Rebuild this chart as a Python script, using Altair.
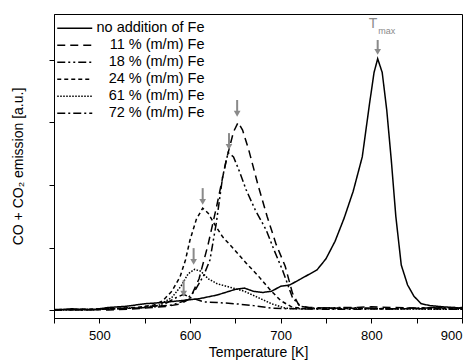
import altair as alt
import pandas as pd

series_names = ["no addition of Fe", "11 % (m/m) Fe", "18 % (m/m) Fe",
                "24 % (m/m) Fe", "61 % (m/m) Fe", "72 % (m/m) Fe"]

t_none = [450, 470, 490, 510, 530, 550, 570, 590, 610, 630, 650, 660, 670, 680, 690, 700, 710, 720, 730,
          740, 750, 760, 770, 780, 790, 798, 803, 807, 812, 817, 822, 827, 833, 840, 847, 855, 865, 880, 900]
y_none = [0.0, 0.02, 0.0, 0.04, 0.06, 0.1, 0.12, 0.15, 0.18, 0.24, 0.33, 0.35, 0.3, 0.28, 0.3, 0.38, 0.4, 0.48, 0.56,
          0.64, 0.82, 1.1, 1.47, 1.9, 2.45, 3.3, 3.8, 4.02, 3.8, 3.2, 2.4, 1.5, 0.72, 0.4, 0.22, 0.1, 0.07, 0.05, 0.03]

t_11 = [450, 480, 510, 540, 560, 575, 590, 600, 610, 620, 630, 640, 648, 653, 658, 665, 675, 685, 695, 705,
        713, 720, 730, 760, 800, 850, 900]
y_11 = [0.0, 0.01, 0.0, 0.02, 0.04, 0.06, 0.1, 0.18, 0.5, 1.05, 1.7, 2.4, 2.85, 3.0, 2.88, 2.55, 2.0, 1.5, 1.05, 0.7,
        0.27, 0.08, 0.04, 0.03, 0.05, 0.03, 0.04]

t_18 = [450, 480, 510, 540, 560, 580, 595, 605, 615, 622, 629, 636, 642, 648, 655, 662, 672, 684, 693, 702,
        713, 722, 735, 770, 820, 870, 900]
y_18 = [0.01, 0.0, 0.02, 0.03, 0.05, 0.08, 0.15, 0.3, 0.55, 0.8, 1.39, 2.13, 2.52, 2.45, 2.2, 1.92, 1.6, 1.28, 0.95,
        0.64, 0.2, 0.06, 0.03, 0.04, 0.02, 0.04, 0.03]

t_24 = [450, 480, 510, 540, 560, 570, 580, 589, 595, 600, 607, 614, 620, 628, 636, 648, 662, 675, 688, 700,
        712, 725, 760, 820, 900]
y_24 = [0.0, 0.01, 0.02, 0.04, 0.08, 0.15, 0.3, 0.53, 0.8, 1.12, 1.45, 1.63, 1.55, 1.35, 1.17, 0.98, 0.75, 0.55,
        0.33, 0.15, 0.05, 0.02, 0.03, 0.02, 0.03]

t_61 = [450, 500, 540, 565, 580, 590, 598, 605, 612, 620, 630, 645, 660, 675, 690, 705, 720, 800, 900]
y_61 = [0.0, 0.01, 0.03, 0.07, 0.2, 0.38, 0.58, 0.65, 0.62, 0.5, 0.42, 0.36, 0.3, 0.2, 0.1, 0.03, 0.02, 0.02, 0.01]

t_72 = [450, 500, 540, 570, 585, 593, 600, 615, 630, 650, 670, 690, 710, 760, 850, 900]
y_72 = [0.0, 0.01, 0.03, 0.08, 0.2, 0.25, 0.2, 0.13, 0.12, 0.1, 0.07, 0.03, 0.02, 0.01, 0.02, 0.01]

# arrows marking the maxima
arrow_t = [807, 652, 643, 614, 604, 593]
arrow_tip = [4.08, 3.09, 2.56, 1.68, 0.72, 0.21]
arrow_tail = [4.32, 3.36, 2.83, 1.95, 0.99, 0.48]

dashes = [[1, 0], [8, 5], [8, 3, 2, 3, 2, 3], [4, 3], [1.5, 1.5], [8, 3, 2, 3]]

rows = []
for name, ts, ys in zip(series_names,
                        [t_none, t_11, t_18, t_24, t_61, t_72],
                        [y_none, y_11, y_18, y_24, y_61, y_72]):
    for t, v in zip(ts, ys):
        rows.append({"series": name, "T": t, "y": v})
df = pd.DataFrame(rows)

arrows = pd.DataFrame({
    "T": arrow_t,
    "tail": arrow_tail,
    "stem_end": [v + 0.09 for v in arrow_tip],
    "head": [v + 0.05 for v in arrow_tip],
})

tmax_df = pd.DataFrame({"T": [802, 817], "y": [4.46, 4.38], "txt": ["T", "max"], "size": [14, 9]})

x_scale = alt.Scale(domain=[450, 900], nice=False)
y_scale = alt.Scale(domain=[-0.128, 4.736], nice=False, zero=False)

x_axis = alt.Axis(title="Temperature [K]", values=list(range(450, 901, 50)),
                  labelExpr="datum.value % 100 == 0 && datum.value > 450 ? datum.label : ''",
                  tickSize=5, grid=False, labelPadding=6, titlePadding=3,
                  labelFontSize=13, titleFontSize=14, titleFontWeight="normal")
y_axis = alt.Axis(title="CO + CO₂ emission [a.u.]", values=[0, 1, 2, 3, 4], labels=False,
                  tickSize=5, grid=False, titlePadding=23, titleFontSize=14, titleFontWeight="normal")

lines = alt.Chart(df).mark_line(color="black", strokeWidth=1.5).encode(
    x=alt.X("T:Q", scale=x_scale, axis=x_axis),
    y=alt.Y("y:Q", scale=y_scale, axis=y_axis),
    strokeDash=alt.StrokeDash("series:N", scale=alt.Scale(domain=series_names, range=dashes),
                              legend=alt.Legend(title=None, orient="none", legendX=13.5, legendY=7,
                                                symbolType="M-3.5,0H3.5", symbolSize=100,
                                                symbolStrokeColor="black", symbolStrokeWidth=1.5,
                                                labelFontSize=14.5, labelAlign="right",
                                                labelOffset=122.5, rowPadding=2, padding=0,
                                                labelLimit=300)),
    order="T:Q",
)

stems = alt.Chart(arrows).mark_rule(color="#8a8a8a", strokeWidth=2).encode(
    x="T:Q", y="tail:Q", y2="stem_end:Q")
heads = alt.Chart(arrows).mark_point(shape="triangle-down", filled=True, color="#8a8a8a",
                                     size=45, opacity=1).encode(x="T:Q", y="head:Q")

tmax = alt.Chart(tmax_df).mark_text(color="#8a8a8a", baseline="bottom", align="center").encode(
    x="T:Q", y="y:Q", text="txt:N", size=alt.Size("size:Q", scale=None, legend=None))

chart = alt.layer(lines, stems, heads, tmax).properties(
    width=408, height=304,
    autosize=alt.AutoSizeParams(type="none"),
    padding={"left": 46, "top": 6, "right": 2, "bottom": 50},
).configure_view(stroke="black", strokeWidth=1).configure_axis(
    domainColor="black", tickColor="black", labelColor="black", titleColor="black",
    labelFont="Liberation Sans", titleFont="Liberation Sans",
).configure_legend(labelFont="Liberation Sans", labelColor="black").configure_text(font="Liberation Sans")

chart.save("out.html", embed_options={"renderer": "svg", "actions": False})
